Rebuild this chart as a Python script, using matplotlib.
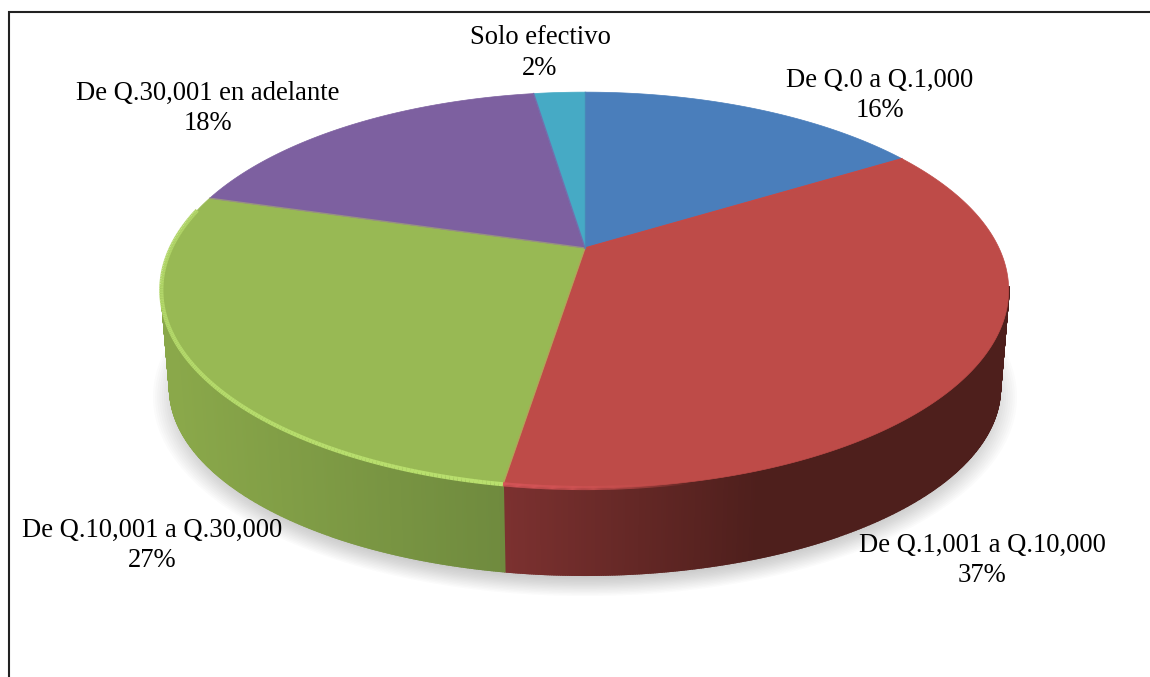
import numpy as np
import matplotlib
matplotlib.use('Agg')
import matplotlib.pyplot as plt
from matplotlib.collections import LineCollection
from matplotlib.colors import to_rgb
from matplotlib.patches import Ellipse

plt.rcParams['font.family'] = ['Liberation Serif', 'DejaVu Serif']

# datos
categorias = ["De Q.0 a Q.1,000", "De Q.1,001 a Q.10,000", "De Q.10,001 a Q.30,000",
              "De Q.30,001 en adelante", "Solo efectivo"]
porcentajes = ["16%", "37%", "27%", "18%", "2%"]
areas = [16.2, 36.3, 27.0, 18.1, 2.4]  # reparto medido sobre la tarta dibujada
colores = ['#4a7ebb', '#be4b48', '#98b954', '#7d60a0', '#46aac5']
separadores = ['#cb4742', '#b8a05a', '#9c9a7c', '#7a62a8', '#4a86b8']
pos_etiquetas = [(880, 95), (982, 560), (152, 545), (208, 108), (540, 53)]

# color de la pared lateral: izquierda, derecha
lateral = {0: ('#2c4a70', '#2c4a70'), 1: ('#7c3130', '#4e1f1c'), 2: ('#8aa84a', '#6f8a3e'),
           3: ('#4a3960', '#4a3960'), 4: ('#2a6575', '#2a6575')}
borde_claro = {1: ('#d9565a', '#be4b48'), 2: ('#b9e06e', '#b0d468')}

# perspectiva de la cara superior
CX, CY, SX, SY, K = 585, 248, 414, 189, 0.2125
CY_TOP, CY_BOT, ESC_X, ESC_Y = 290, 388, 0.98, 0.945


def proyectar(theta):
    # theta en grados, desde las 12 en sentido horario
    t = np.radians(theta)
    x, y = np.sin(t), -np.cos(t)
    w = 1 - K * y
    return CX + SX * x / w, CY + SY * y / w


def base(px, py):
    return CX + (px - CX) * ESC_X, CY_BOT + (py - CY_TOP) * ESC_Y


fig = plt.figure(figsize=(11.5, 6.77), dpi=100, facecolor='white')
ax = fig.add_axes([0, 0, 1, 1])
ax.set_xlim(0, 1150)
ax.set_ylim(677, 0)
ax.axis('off')

# marco (solo arriba e izquierda)
ax.plot([9, 9, 1150], [677, 12, 12], color='#222222', lw=1.5, solid_joinstyle='miter', zorder=1)

# sombra difusa
for i in range(14):
    ax.add_patch(Ellipse((CX, 397), 2 * (432 - i * 2.2), 2 * (199 - i * 1.4),
                         facecolor='#707070', edgecolor='none', alpha=0.028, zorder=2))

cortes = np.concatenate([[0], np.cumsum(areas) / np.sum(areas) * 360])

# pared lateral, tiras verticales para el degradado
for i in range(len(areas)):
    a0, a1 = cortes[i], cortes[i + 1]
    th = np.linspace(a0, a1, max(int(a1 - a0) * 4, 2))
    tx, ty = proyectar(th)
    bx, by = base(tx, ty)
    c0, c1 = np.array(to_rgb(lateral[i][0])), np.array(to_rgb(lateral[i][1]))
    xmin, xmax = (172, 505) if i == 2 else (505, 760)
    for j in range(len(th) - 1):
        if th[j] < 101 or th[j] > 259:
            continue
        f = np.clip((tx[j] - xmin) / (xmax - xmin), 0, 1)
        col = c0 + (c1 - c0) * f
        ax.fill([tx[j], tx[j + 1], bx[j + 1], bx[j]], [ty[j], ty[j + 1], by[j + 1], by[j]],
                color=col, lw=1.3, zorder=3)

# cara superior
for i, area in enumerate(areas):
    th = np.linspace(cortes[i], cortes[i + 1], 200)
    tx, ty = proyectar(th)
    ax.fill(np.r_[CX, tx], np.r_[CY, ty], facecolor=colores[i], edgecolor=colores[i], lw=0.5, zorder=4)

# lineas finas entre porciones
for i in range(len(areas)):
    ex, ey = proyectar(cortes[i + 1])
    ax.plot([CX, ex], [CY, ey], color=separadores[i], lw=1.0, alpha=0.8, zorder=4.5)

# borde claro del frente
for i, lim in [(2, (cortes[2], 282)), (1, (cortes[1] + 110, cortes[2]))]:
    th = np.linspace(lim[0], lim[1], 200)
    tx, ty = proyectar(th)
    segs = np.stack([np.c_[tx[:-1], ty[:-1]], np.c_[tx[1:], ty[1:]]], axis=1)
    c0, c1 = np.array(to_rgb(borde_claro[i][0])), np.array(to_rgb(borde_claro[i][1]))
    f = np.linspace(0, 1, len(segs))[:, None]
    if i == 1:
        f = f[::-1]
    rgba = np.c_[c0 + (c1 - c0) * f, np.clip(1 - f ** 3, 0, 1) if i == 1 else np.ones(len(segs))]
    ax.add_collection(LineCollection(segs, colors=rgba, linewidths=3.0, zorder=5))

# etiquetas
for cat, pct, (x, y) in zip(categorias, porcentajes, pos_etiquetas):
    ax.text(x, y, f"{cat}\n{pct}", ha='center', va='center', fontsize=19.2, color='black',
            linespacing=1.27, zorder=6)

fig.savefig('out.png', dpi=100)
